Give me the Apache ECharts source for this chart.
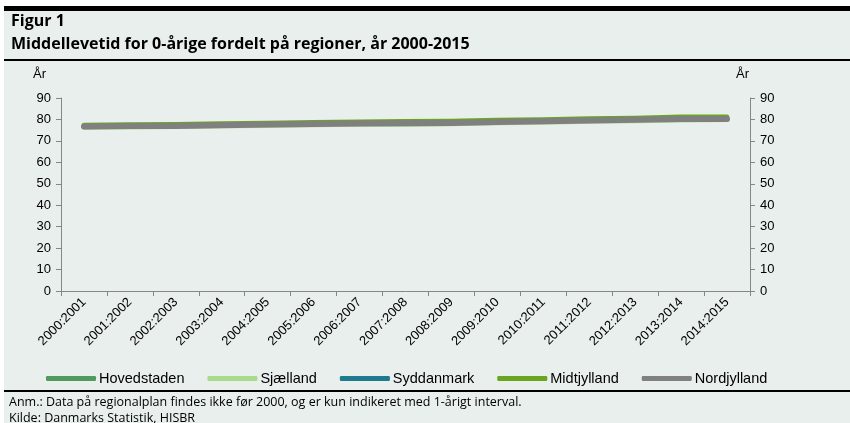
<!DOCTYPE html>
<html>
<head>
<meta charset="utf-8">
<script src="https://cdn.jsdelivr.net/npm/echarts@6/dist/echarts.min.js"></script>
<style>
html,body{margin:0;padding:0;background:#ffffff;}
#chart{width:850px;height:423px;}
</style>
</head>
<body>
<div id="chart"></div>
<script>
var categories = ["2000:2001","2001:2002","2002:2003","2003:2004","2004:2005","2005:2006","2006:2007","2007:2008","2008:2009","2009:2010","2010:2011","2011:2012","2012:2013","2013:2014","2014:2015"];
var hovedstaden = [76.5,76.8,77.0,77.3,77.7,78.0,78.2,78.4,78.7,79.1,79.5,79.9,80.2,80.6,80.7];
var sjaelland    = [76.2,76.4,76.6,76.9,77.1,77.4,77.6,77.7,77.9,78.3,78.6,79.0,79.3,79.6,79.8];
var syddanmark   = [76.9,77.0,77.2,77.5,77.8,78.1,78.3,78.4,78.6,79.0,79.3,79.6,79.9,80.3,80.4];
var midtjylland  = [77.4,77.6,77.8,78.1,78.4,78.7,78.9,79.1,79.3,79.7,80.0,80.4,80.7,81.2,81.2];
var nordjylland  = [76.7,76.9,77.0,77.3,77.6,77.9,78.1,78.2,78.4,78.8,79.1,79.5,79.8,80.2,80.2];
var seriesNames = ["Hovedstaden","Sjælland","Syddanmark","Midtjylland","Nordjylland"];
var seriesColors = ["#4f9a5c","#a8db8c","#1e7a8e","#6aa51f","#808080"];
var yTicks = [0,10,20,30,40,50,60,70,80,90];
var titleText = "Figur 1";
var subtitleText = "Middellevetid for 0-årige fordelt på regioner, år 2000-2015";
var noteText = "Anm.: Data på regionalplan findes ikke før 2000, og er kun indikeret med 1-årigt interval.";
var sourceText = "Kilde: Danmarks Statistik, HISBR";
var unitText = "År";

var seriesData = [hovedstaden, sjaelland, syddanmark, midtjylland, nordjylland];
var sans = '"Liberation Sans",Arial,sans-serif';
var calib = '"Open Sans","Noto Sans",sans-serif';
var axisColor = '#868686';

var chart = echarts.init(document.getElementById('chart'), null, {renderer:'canvas'});
var series = seriesData.map(function(d, i){
  return {
    name: seriesNames[i], type: 'line', data: d, yAxisIndex: 0,
    symbol: 'none', smooth: false,
    lineStyle: {width: i === 4 ? 6 : 4.5, color: seriesColors[i], cap: 'round', join: 'round'},
    itemStyle: {color: seriesColors[i]},
    z: 2 + i
  };
});
series.push({type:'line', yAxisIndex:1, data:[], silent:true});

function yAxisDef(pos){
  return {type:'value', min:yTicks[0], max:yTicks[yTicks.length-1], interval:yTicks[1]-yTicks[0], position:pos,
    axisLine:{show:true, lineStyle:{color:axisColor}},
    axisTick:{show:true, length:5, lineStyle:{color:axisColor}},
    splitLine:{show:false},
    axisLabel:{fontFamily:sans, fontSize:13, color:'#000', margin:10}};
}

chart.setOption({
  animation: false,
  backgroundColor: '#ffffff',
  graphic: [
    {type:'rect', shape:{x:4,y:6,width:846,height:417}, style:{fill:'#e9efec'}, z:-10},
    {type:'rect', shape:{x:4,y:6,width:846,height:5}, style:{fill:'#000000'}},
    {type:'rect', shape:{x:4,y:59,width:846,height:2}, style:{fill:'#000000'}},
    {type:'rect', shape:{x:4,y:390,width:846,height:2}, style:{fill:'#000000'}},
    {type:'text', left:11, top:13, style:{text:titleText, font:'bold 16px '+calib, fill:'#000'}},
    {type:'text', left:11, top:36, style:{text:subtitleText, font:'bold 16px '+calib, fill:'#000'}},
    {type:'text', left:33, top:68, style:{text:unitText, font:'13px '+sans, fill:'#000'}},
    {type:'text', left:736, top:68, style:{text:unitText, font:'13px '+sans, fill:'#000'}},
    {type:'text', left:9, top:396, style:{text:noteText, font:'12.5px '+calib, fill:'#000'}},
    {type:'text', left:9, top:412, style:{text:sourceText, font:'12.5px '+calib, fill:'#000'}}
  ],
  grid: {left:61, right:100, top:98, bottom:132, containLabel:false},
  legend: {
    left: 41, top: 366, itemWidth: 50, itemHeight: 5, itemGap: 23,
    icon: 'roundRect',
    data: seriesNames,
    textStyle: {fontFamily: sans, fontSize: 14.5, color:'#000', padding:[0,0,0,-2]}
  },
  xAxis: {
    type:'category', data: categories, boundaryGap: true,
    axisLine:{lineStyle:{color:axisColor, width:1}},
    axisTick:{show:true, alignWithLabel:false, length:5, lineStyle:{color:axisColor}},
    axisLabel:{rotate:45, fontFamily:sans, fontSize:13, color:'#000', margin:9, interval:0}
  },
  yAxis: [yAxisDef('left'), yAxisDef('right')],
  series: series
});
</script>
</body>
</html>
